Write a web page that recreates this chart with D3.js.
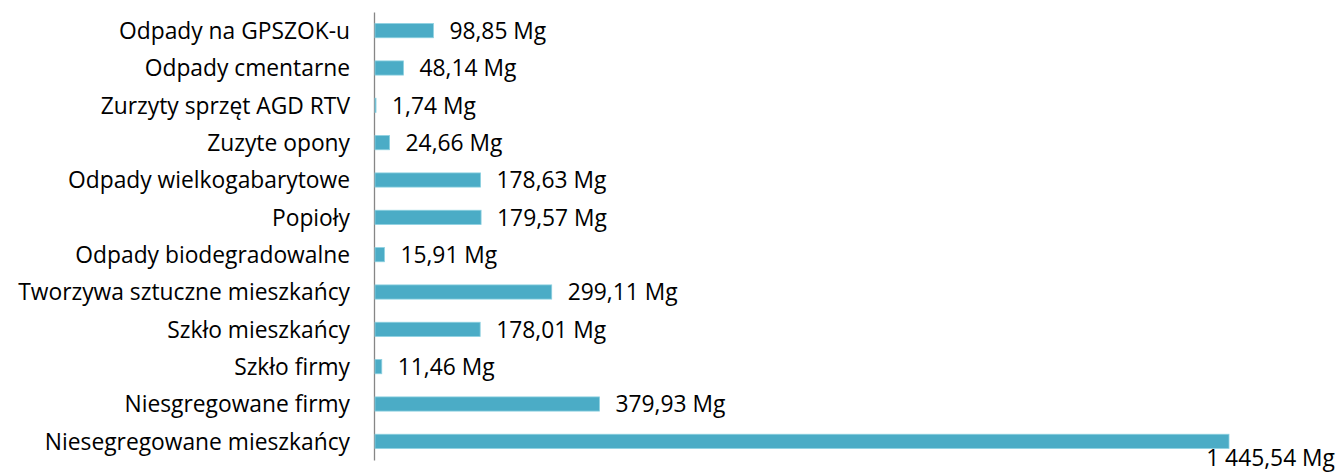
<!DOCTYPE html>
<html>
<head>
<meta charset="utf-8">
<script src="https://cdn.jsdelivr.net/npm/d3@7"></script>
<style>
  body { margin: 0; background: #fff; }
  text { font-family: "Open Sans", sans-serif; fill: #000; }
</style>
</head>
<body>
<svg id="chart" width="1343" height="474"></svg>
<script>
const categories = [
  "Odpady na GPSZOK-u",
  "Odpady cmentarne",
  "Zurzyty sprzęt AGD RTV",
  "Zuzyte opony",
  "Odpady wielkogabarytowe",
  "Popioły",
  "Odpady biodegradowalne",
  "Tworzywa sztuczne mieszkańcy",
  "Szkło mieszkańcy",
  "Szkło firmy",
  "Niesgregowane firmy",
  "Niesegregowane mieszkańcy"
];
const values = [98.85, 48.14, 1.74, 24.66, 178.63, 179.57, 15.91, 299.11, 178.01, 11.46, 379.93, 1445.54];

const W = 1343, H = 474;
const margin = { top: 12, left: 374, right: 115, bottom: 14 };
const innerW = 1228 - margin.left;
const innerH = H - margin.top - margin.bottom;
const fontSize = "22.8px";

const locale = d3.formatLocale({ decimal: ",", thousands: "\u00a0", grouping: [3], currency: ["", ""] });
const fmt = v => locale.format(",.2f")(v) + " Mg";

const svg = d3.select("#chart");
const g = svg.append("g").attr("transform", `translate(${margin.left},${margin.top})`);

const x = d3.scaleLinear().domain([0, 1445.54]).range([0, innerW]);
const y = d3.scaleBand().domain(categories).range([0, innerH]).paddingInner(0.62).paddingOuter(0.31);

const yAxis = d3.axisLeft(y).tickSize(0).tickPadding(24);
const yAxisG = g.append("g").call(yAxis);
yAxisG.select(".domain").attr("stroke", "#868686").attr("stroke-width", 1.3);
yAxisG.selectAll("text").style("font-size", fontSize).attr("fill", "#000").attr("dy", "0.36em");

g.selectAll("rect.bar")
  .data(values)
  .enter()
  .append("rect")
  .attr("class", "bar")
  .attr("x", 1)
  .attr("y", (d, i) => y(categories[i]))
  .attr("width", d => x(d))
  .attr("height", y.bandwidth())
  .attr("fill", "#4BACC6")
  .attr("stroke", "#8cd0e0")
  .attr("stroke-width", 0.8);

g.selectAll("text.val")
  .data(values)
  .enter()
  .append("text")
  .attr("class", "val")
  .style("font-size", fontSize)
  .attr("dy", "0.36em")
  .text(d => fmt(d))
  .each(function(d, i) {
    const t = d3.select(this);
    const w = this.getComputedTextLength();
    let lx = x(d) + 17;
    let ly = y(categories[i]) + y.bandwidth() / 2;
    // label doesn't fit on the right -> push it under the bar end
    if (margin.left + lx + w > W - 2) {
      lx = W - 8 - margin.left - w;
      ly += 16;
    }
    t.attr("x", lx).attr("y", ly);
  });
</script>
</body>
</html>
